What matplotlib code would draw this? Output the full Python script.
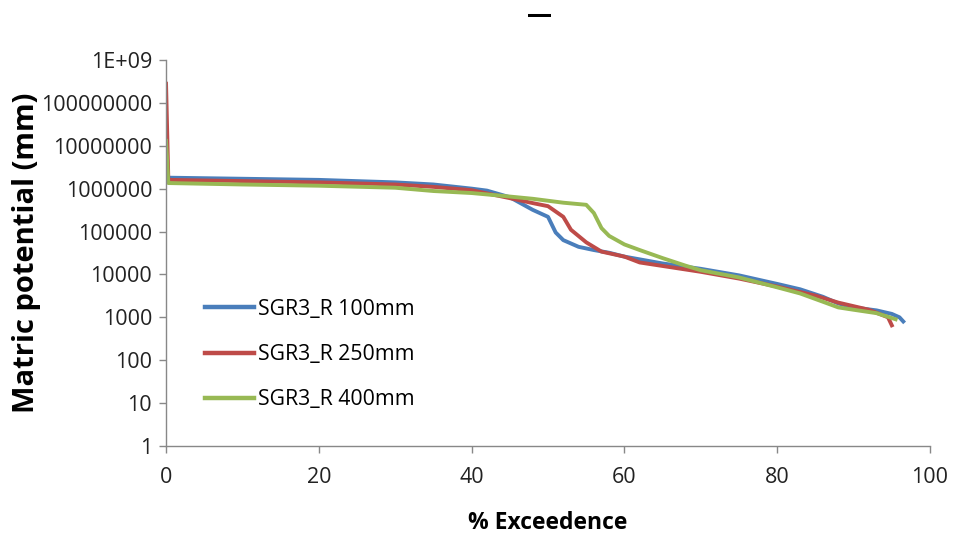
import matplotlib
matplotlib.use("Agg")
import matplotlib.pyplot as plt
from matplotlib.ticker import FixedLocator, FixedFormatter, NullLocator

# Data
x_100 = [0, 0.3, 10, 20, 30, 35, 40, 42, 45, 48, 50, 51, 52, 54, 56, 58, 60, 65, 70, 75, 80, 83, 86, 88, 90, 93, 95, 96, 96.5]
y_100 = [1.8e6, 1.8e6, 1.7e6, 1.6e6, 1.4e6, 1.25e6, 1.0e6, 9e5, 6.3e5, 3.2e5, 2.2e5, 9.5e4, 6.3e4, 4.4e4, 3.7e4, 3.2e4, 2.6e4, 1.8e4, 1.35e4, 9.5e3, 6e3, 4.5e3, 3e3, 2.1e3, 1.7e3, 1.45e3, 1.2e3, 1.0e3, 8e2]

x_250 = [0, 0.3, 10, 20, 30, 35, 40, 45, 48, 50, 52, 53, 55, 57, 60, 62, 70, 75, 80, 85, 88, 92, 94.5, 95]
y_250 = [2.8e8, 1.6e6, 1.5e6, 1.4e6, 1.25e6, 1.1e6, 9.2e5, 6e5, 4.6e5, 3.9e5, 2.2e5, 1.1e5, 5.6e4, 3.4e4, 2.6e4, 1.9e4, 1.15e4, 8e3, 5.2e3, 3.2e3, 2.2e3, 1.5e3, 1.0e3, 6.5e2]

x_400 = [0, 0.3, 10, 20, 30, 35, 40, 44, 48, 52, 55, 56, 57, 58, 60, 62, 65, 68, 70, 75, 80, 83, 86, 88, 90, 93, 95.5]
y_400 = [1.3e7, 1.35e6, 1.25e6, 1.17e6, 1.05e6, 8.8e5, 7.9e5, 6.8e5, 5.8e5, 4.7e5, 4.2e5, 2.7e5, 1.2e5, 7.9e4, 5e4, 3.7e4, 2.4e4, 1.6e4, 1.25e4, 8.5e3, 5e3, 3.6e3, 2.3e3, 1.7e3, 1.5e3, 1.25e3, 9e2]

series_labels = ["SGR3_R 100mm", "SGR3_R 250mm", "SGR3_R 400mm"]
colors = ["#4A7EBB", "#BE4B48", "#98B954"]

y_ticks = [1, 10, 100, 1000, 10000, 100000, 1000000, 10000000, 100000000, 1000000000]
y_tick_labels = ["1", "10", "100", "1000", "10000", "100000", "1000000", "10000000", "100000000", "1E+09"]
x_ticks = [0, 20, 40, 60, 80, 100]

plt.rcParams['font.family'] = ['Open Sans', 'DejaVu Sans']

fig = plt.figure(figsize=(9.57, 5.35), dpi=100)
ax = fig.add_axes([0.1735, 0.1664, 0.9718 - 0.1735, 0.8879 - 0.1664])

for xs, ys, lab, c in zip([x_100, x_250, x_400], [y_100, y_250, y_400], series_labels, colors):
    ax.plot(xs, ys, color=c, lw=2.8, label=lab, solid_joinstyle='round')

ax.set_yscale('log')
ax.set_ylim(1, 1e9)
ax.set_xlim(0, 100)
ax.yaxis.set_major_locator(FixedLocator(y_ticks))
ax.yaxis.set_major_formatter(FixedFormatter(y_tick_labels))
ax.yaxis.set_minor_locator(NullLocator())
ax.set_xticks(x_ticks)

for s in ['top', 'right']:
    ax.spines[s].set_visible(False)
for s in ['left', 'bottom']:
    ax.spines[s].set_color('#888888')
    ax.spines[s].set_linewidth(1.0)
ax.tick_params(axis='both', colors='#888888', labelcolor='#222222', labelsize=15.5, length=5, width=1)
ax.tick_params(axis='x', pad=10)
ax.tick_params(axis='y', pad=5)

ax.set_ylabel("Matric potential (mm)", fontsize=21, fontweight='bold', labelpad=0)
ax.set_xlabel("% Exceedence", fontsize=16.5, fontweight='bold', labelpad=17)
fig.text(0.564, 0.995, "—", ha='center', va='top', fontsize=18, fontweight='bold')

leg = ax.legend(loc='lower left', bbox_to_anchor=(0.04, 0.07), frameon=False, fontsize=15.3,
                handlelength=2.3, labelspacing=1.15, handletextpad=0.2, borderaxespad=0)
for line in leg.get_lines():
    line.set_linewidth(3.2)

fig.savefig("out.png", dpi=100)
